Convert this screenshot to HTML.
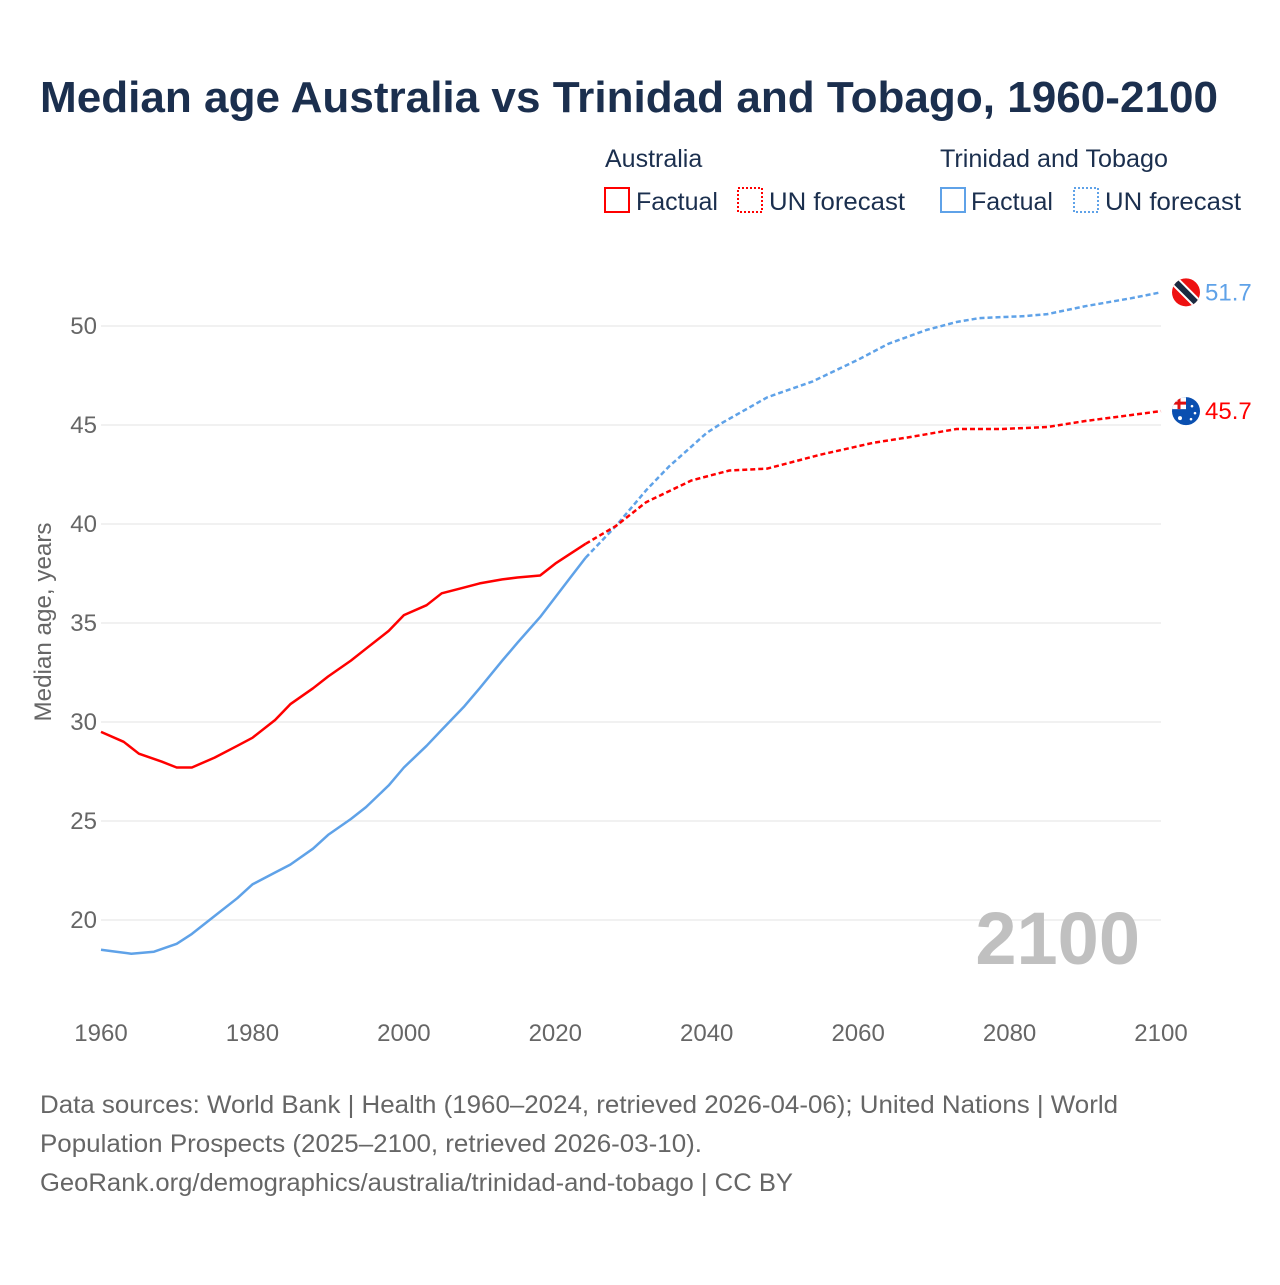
<!DOCTYPE html>
<html><head><meta charset="utf-8">
<style>
html,body{margin:0;padding:0;background:#fff;}
body{width:1280px;height:1280px;overflow:hidden;font-family:"Liberation Sans",sans-serif;}
</style></head>
<body>
<svg id="chart" width="1280" height="1280" viewBox="0 0 1280 1280" xmlns="http://www.w3.org/2000/svg" font-family="Liberation Sans, sans-serif">
  <text x="40" y="112" font-size="44" font-weight="bold" fill="#1b2f4e" textLength="1178" lengthAdjust="spacingAndGlyphs">Median age Australia vs Trinidad and Tobago, 1960-2100</text>
  <g font-size="25" fill="#1b2f4e">
    <text x="605" y="167">Australia</text>
    <rect x="605" y="188" width="24" height="24" fill="none" stroke="#ff0000" stroke-width="2"/>
    <text x="636" y="210">Factual</text>
    <rect x="738" y="188" width="24" height="24" fill="none" stroke="#ff0000" stroke-width="2" stroke-dasharray="2,2"/>
    <text x="769" y="210" textLength="136" lengthAdjust="spacingAndGlyphs">UN forecast</text>
    <text x="940" y="167" textLength="228" lengthAdjust="spacingAndGlyphs">Trinidad and Tobago</text>
    <rect x="941" y="188" width="24" height="24" fill="none" stroke="#5fa2e8" stroke-width="2"/>
    <text x="971" y="210">Factual</text>
    <rect x="1074" y="188" width="24" height="24" fill="none" stroke="#5fa2e8" stroke-width="2" stroke-dasharray="2,2"/>
    <text x="1105" y="210" textLength="136" lengthAdjust="spacingAndGlyphs">UN forecast</text>
  </g>
  <g id="grid"></g>
  <g id="yticks" font-size="24" fill="#666" text-anchor="end"></g>
  <g id="xticks" font-size="24" fill="#666" text-anchor="middle"></g>
  <text transform="translate(51,622) rotate(-90)" font-size="24" fill="#666" text-anchor="middle" textLength="199" lengthAdjust="spacingAndGlyphs">Median age, years</text>
  <text x="1140" y="964" font-size="74" font-weight="bold" fill="#c0c0c0" text-anchor="end">2100</text>
  <g id="series"></g>
  <g font-size="25" fill="#666">
    <text x="40" y="1113" textLength="1078" lengthAdjust="spacingAndGlyphs">Data sources: World Bank | Health (1960–2024, retrieved 2026-04-06); United Nations | World</text>
    <text x="40" y="1152" textLength="662" lengthAdjust="spacingAndGlyphs">Population Prospects (2025–2100, retrieved 2026-03-10).</text>
    <text x="40" y="1191" textLength="753" lengthAdjust="spacingAndGlyphs">GeoRank.org/demographics/australia/trinidad-and-tobago | CC BY</text>
  </g>
</svg>
<script>
const yTickValues = [20, 25, 30, 35, 40, 45, 50];
const xTickYears = [1960, 1980, 2000, 2020, 2040, 2060, 2080, 2100];

const ausFactYears = [1960,1963,1965,1968,1970,1972,1975,1978,1980,1983,1985,1988,1990,1993,1995,1998,2000,2003,2005,2008,2010,2013,2015,2018,2020,2022,2024];
const ausFactVals  = [29.5,29.0,28.4,28.0,27.7,27.7,28.2,28.8,29.2,30.1,30.9,31.7,32.3,33.1,33.7,34.6,35.4,35.9,36.5,36.8,37.0,37.2,37.3,37.4,38.0,38.5,39.0];
const ausFcYears = [2024,2028,2032,2038,2043,2048,2055,2062,2067,2073,2079,2085,2090,2096,2100];
const ausFcVals  = [39.0,39.9,41.1,42.2,42.7,42.8,43.5,44.1,44.4,44.8,44.8,44.9,45.2,45.5,45.7];

const ttoFactYears = [1960,1962,1964,1967,1970,1972,1975,1978,1980,1983,1985,1988,1990,1993,1995,1998,2000,2003,2005,2008,2010,2013,2015,2018,2020,2022,2024];
const ttoFactVals  = [18.5,18.4,18.3,18.4,18.8,19.3,20.2,21.1,21.8,22.4,22.8,23.6,24.3,25.1,25.7,26.8,27.7,28.8,29.6,30.8,31.7,33.1,34.0,35.3,36.3,37.3,38.3];
const ttoFcYears = [2024,2028,2032,2035,2040,2042,2048,2054,2060,2064,2069,2073,2076,2082,2085,2090,2096,2100];
const ttoFcVals  = [38.3,39.9,41.7,42.9,44.6,45.1,46.4,47.2,48.3,49.1,49.8,50.2,50.4,50.5,50.6,51.0,51.4,51.7];

const NS = "http://www.w3.org/2000/svg";
function xScale(yr){ return 101 + (yr - 1960) * (1060 / 140); }
function yScale(v){ return 920 - (v - 20) * 19.8; }
function mk(tag, attrs, parent){
  const el = document.createElementNS(NS, tag);
  for (const k in attrs) el.setAttribute(k, attrs[k]);
  parent.appendChild(el);
  return el;
}
const grid = document.getElementById('grid');
const yt = document.getElementById('yticks');
yTickValues.forEach(v => {
  const l = mk('line', {x1: 101, x2: 1161, y1: yScale(v), y2: yScale(v), stroke: '#e3e3e3', 'stroke-width': 1}, grid);
  
  
  const t = mk('text', {x: 97, y: yScale(v) + 8}, yt);
  t.textContent = v;
  
  
});
const xt = document.getElementById('xticks');
xTickYears.forEach(yr => {
  const t = mk('text', {x: xScale(yr), y: 1041}, xt);
  t.textContent = yr;
  
  
});
const series = document.getElementById('series');
function line(years, vals, color, dash, name){
  const d = years.map((yr, i) => (i ? 'L' : 'M') + xScale(yr).toFixed(1) + ',' + yScale(vals[i]).toFixed(1)).join(' ');
  const p = mk('path', {d: d, fill: 'none', stroke: color, 'stroke-width': 2.5, 'stroke-linejoin': 'round'}, series);
  if (dash) p.setAttribute('stroke-dasharray', '5,3');
  
  
}
line(ttoFactYears, ttoFactVals, '#5fa2e8', false, 'trinidad-factual-line');
line(ttoFcYears, ttoFcVals, '#5fa2e8', true, 'trinidad-forecast-line');
line(ausFactYears, ausFactVals, '#ff0000', false, 'australia-factual-line');
line(ausFcYears, ausFcVals, '#ff0000', true, 'australia-forecast-line');

const ttoLast = ttoFcVals[ttoFcVals.length - 1];
const ausLast = ausFcVals[ausFcVals.length - 1];
const fx = 1186;
const tg = mk('g', {}, series);


const tcy = yScale(ttoLast);
mk('defs', {}, tg).innerHTML = '<clipPath id="cT"><circle cx="' + fx + '" cy="' + tcy + '" r="14"/></clipPath><clipPath id="cA"><circle cx="' + fx + '" cy="' + yScale(ausLast) + '" r="14"/></clipPath>';
mk('circle', {cx: fx, cy: tcy, r: 14, fill: '#ee1111'}, tg);
mk('line', {x1: fx - 14, y1: tcy - 14, x2: fx + 14, y2: tcy + 14, stroke: '#fff', 'stroke-width': 10, 'clip-path': 'url(#cT)'}, tg);
mk('line', {x1: fx - 14, y1: tcy - 14, x2: fx + 14, y2: tcy + 14, stroke: '#1b2a40', 'stroke-width': 6, 'clip-path': 'url(#cT)'}, tg);
const tl = mk('text', {x: 1205, y: tcy + 8, 'font-size': 24, fill: '#5fa2e8'}, series);
tl.textContent = ttoLast.toFixed(1);


const ag = mk('g', {}, series);


const acy = yScale(ausLast);
mk('circle', {cx: fx, cy: acy, r: 14, fill: '#0a4fb0'}, ag);
mk('rect', {x: fx - 14, y: acy - 14, width: 14, height: 12, fill: '#fff', 'clip-path': 'url(#cA)'}, ag);
mk('path', {d: 'M' + (fx - 14) + ',' + (acy - 8) + 'h14M' + (fx - 7) + ',' + (acy - 14) + 'v12', stroke: '#e01010', 'stroke-width': 3, 'clip-path': 'url(#cA)'}, ag);
mk('circle', {cx: fx - 6, cy: acy + 7, r: 2, fill: '#fff'}, ag);
mk('circle', {cx: fx + 6, cy: acy - 5, r: 1.3, fill: '#fff'}, ag);
mk('circle', {cx: fx + 9, cy: acy + 2, r: 1.3, fill: '#fff'}, ag);
mk('circle', {cx: fx + 5, cy: acy + 8, r: 1.3, fill: '#fff'}, ag);
const al = mk('text', {x: 1205, y: acy + 8, 'font-size': 24, fill: '#ff0000'}, series);
al.textContent = ausLast.toFixed(1);


</script>
</body></html>
